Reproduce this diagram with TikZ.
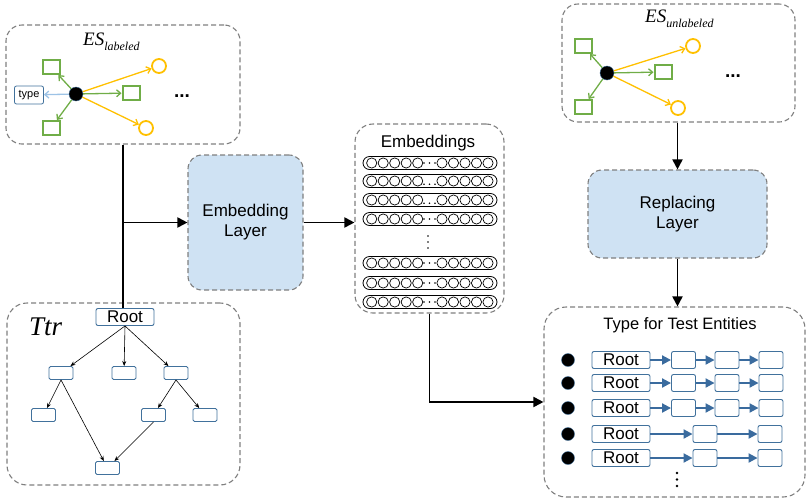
\documentclass[tikz,border=0pt]{standalone}
\usepackage{fontspec}
\setmainfont{Liberation Sans}
\newfontfamily\serifit{Liberation Serif}
\usetikzlibrary{arrows.meta,shapes.misc}

\definecolor{dgray}{HTML}{7F7F7F}
\definecolor{lfill}{HTML}{CFE2F3}
\definecolor{ggreen}{HTML}{70AD47}
\definecolor{gyellow}{HTML}{FFC000}
\definecolor{lblue}{HTML}{9DC3E6}
\definecolor{bblue}{HTML}{41719C}
\definecolor{ablue}{HTML}{3A6B9E}

\tikzset{
  dbox/.style={draw=dgray, dash pattern=on 5pt off 3pt, line width=1.1pt,
    rounded corners=16pt, inner sep=0pt},
  layer/.style={dbox, fill=lfill, rounded corners=14pt, align=center,
    font=\fontsize{17}{20}\selectfont},
  conn/.style={line width=1.8pt, -{Triangle[length=10pt,width=10pt]}},
  plainconn/.style={line width=1.8pt},
  hub/.style={circle, fill=black, draw=bblue, line width=0.4pt,
    minimum size=14pt, inner sep=0pt},
  gsq/.style={draw=ggreen, line width=2pt, minimum width=17pt,
    minimum height=14pt, inner sep=0pt},
  ycirc/.style={circle, draw=gyellow, line width=1.8pt, minimum size=14pt,
    inner sep=0pt},
  garrow/.style={draw=ggreen, line width=1.3pt, -{Straight Barb[length=4pt,width=7pt]}},
  yarrow/.style={draw=gyellow, line width=1.3pt, -{Straight Barb[length=4pt,width=7pt]}},
  larrow/.style={draw=lblue, line width=1.3pt, -{Straight Barb[length=4pt,width=7pt]}},
  typebox/.style={draw=bblue, line width=0.8pt, rounded corners=2pt,
    minimum width=29pt, minimum height=18pt, inner sep=0pt,
    font=\fontsize{11}{11}\selectfont},
  rootbox/.style={draw=bblue, line width=0.9pt, rounded corners=2pt,
    minimum width=58pt, minimum height=17pt, inner sep=0pt,
    font=\fontsize{17}{17}\selectfont},
  tnode/.style={draw=bblue, line width=0.9pt, rounded corners=1.5pt,
    minimum width=24pt, minimum height=13pt, inner sep=0pt},
  cnode/.style={draw=bblue, line width=0.9pt, rounded corners=2pt,
    minimum width=24pt, minimum height=17pt, inner sep=0pt},
  tarrow/.style={line width=0.6pt, -{Stealth[length=5pt,width=4pt]}},
  barrow/.style={draw=ablue, line width=2pt, -{Triangle[length=9pt,width=9pt]}},
  capsule/.style={rounded rectangle, draw, line width=0.8pt,
    minimum width=134pt, minimum height=13pt, inner sep=0pt},
  edot/.style={circle, fill=black, draw=bblue, line width=0.4pt,
    minimum size=13pt, inner sep=0pt},
  esfont/.style={font=\serifit\itshape\fontsize{19}{19}\selectfont},
  moredots/.style={font=\bfseries\fontsize{19}{19}\selectfont},
}

\begin{document}
\begin{tikzpicture}[x=1pt,y=-1pt]
\useasboundingbox (0,0) rectangle (807,499);

% ---- outer boxes ----
\node[dbox, minimum width=234pt, minimum height=119pt] (esl) at (123,84.5) {};
\node[dbox, minimum width=233pt, minimum height=118pt] (esu) at (678.5,63) {};
\node[dbox, minimum width=149pt, minimum height=189pt, rounded corners=18pt] (emb) at (429.5,218.5) {};
\node[layer, minimum width=115pt, minimum height=135pt] (el) at (245.5,222.5) {Embedding\\Layer};
\node[layer, minimum width=179pt, minimum height=88pt] (rl) at (677.5,214) {Replacing\\Layer};
\node[dbox, minimum width=233pt, minimum height=182pt, rounded corners=20pt] (ttr) at (123.5,394) {};
\node[dbox, minimum width=261pt, minimum height=190pt, rounded corners=22pt] (tte) at (674.5,402) {};

% ---- labelled entity set ----
\node[esfont, anchor=base west, inner sep=0pt] (eslab) at (83,45)
  {ES\raisebox{-5pt}{\fontsize{12}{12}\selectfont labeled}};
\node[hub] (dl) at (76,94) {};
\node[gsq] (l1) at (51,67) {};
\node[gsq] (l2) at (51,128) {};
\node[gsq] (l3) at (131,93) {};
\node[ycirc] (l4) at (159,66) {};
\node[ycirc] (l5) at (146,128) {};
\node[typebox] (lt) at (29,95) {type};
\node[moredots] (ldots) at (182,96) {...};
\draw[garrow] (dl) -- (l1);
\draw[garrow] (dl) -- (l2);
\draw[garrow] (dl) -- (l3);
\draw[yarrow] (dl) -- (l4);
\draw[yarrow] (dl) -- (l5);
\draw[larrow] (dl) -- (lt);

% ---- unlabelled entity set ----
\node[esfont, anchor=base west, inner sep=0pt] (eulab) at (645,22)
  {ES\raisebox{-5pt}{\fontsize{12}{12}\selectfont unlabeled}};
\node[hub] (du) at (607,73) {};
\node[gsq] (u1) at (583,46) {};
\node[gsq] (u2) at (583,107) {};
\node[gsq] (u3) at (663,72) {};
\node[ycirc] (u4) at (693,46) {};
\node[ycirc] (u5) at (678,108) {};
\node[moredots] (udots) at (733,76) {...};
\draw[garrow] (du) -- (u1);
\draw[garrow] (du) -- (u2);
\draw[garrow] (du) -- (u3);
\draw[yarrow] (du) -- (u4);
\draw[yarrow] (du) -- (u5);

% ---- embeddings ----
\node[font=\fontsize{17}{17}\selectfont] (embt) at (428,143) {Embeddings};
\foreach \y/\low [count=\i] in {163/0,181/1,200/1,219/0,263/0,283/0,302/0} {
  \node[capsule] (c\i) at (430,\y) {};
  \foreach \k in {0,...,4} {
    \draw[line width=0.7pt] (371.7+11.5*\k,\y) circle[radius=5.1pt];
    \draw[line width=0.7pt] (442+11.5*\k,\y) circle[radius=5.1pt];
  }
  \foreach \dx in {424,429.5,435}
    \fill (\dx,\y+3.2*\low) circle[radius=0.8pt];
}
\foreach \dy in {236,242,248}
  \fill (428,\dy) circle[radius=0.9pt];

% ---- type tree ----
\node[font=\serifit\itshape\fontsize{27}{27}\selectfont, anchor=base west, inner sep=0pt] (ttrlab) at (29,335) {Ttr};
\node[rootbox] (t0) at (125,317) {Root};
\node[tnode] (t1) at (61,373) {};
\node[tnode] (t2) at (124,373) {};
\node[tnode] (t3) at (176,373) {};
\node[tnode] (t4) at (43.5,415) {};
\node[tnode] (t5) at (153.5,415) {};
\node[tnode] (t6) at (205,415) {};
\node[tnode] (t7) at (107.5,468) {};
\draw[tarrow] (t0.south) -- (t1);
\draw[tarrow] (t0.south) -- (t2);
\draw[tarrow] (t0.south) -- (t3);
\draw[tarrow] (t1.south) -- (t4);
\draw[tarrow] (t1.south) -- (t7);
\draw[tarrow] (t3.south) -- (t5);
\draw[tarrow] (t3.south) -- (t6);
\draw[tarrow] (t5.south) -- (t7);

% ---- types for test entities ----
\node[font=\fontsize{16.5}{17}\selectfont] (ttet) at (680,325) {Type for Test Entities};
\foreach \y [count=\i] in {360,383,408} {
  \node[edot] (ea\i) at (568,\y) {};
  \node[rootbox] (ra\i) at (621,\y) {Root};
  \node[cnode] (pa\i) at (683.5,\y) {};
  \node[cnode] (qa\i) at (727,\y) {};
  \node[cnode] (sa\i) at (771,\y) {};
  \draw[barrow] (ra\i) -- (pa\i);
  \draw[barrow] (pa\i) -- (qa\i);
  \draw[barrow] (qa\i) -- (sa\i);
}
\foreach \y [count=\i] in {434,458} {
  \node[edot] (eb\i) at (568,\y) {};
  \node[rootbox] (rb\i) at (621,\y) {Root};
  \node[cnode] (pb\i) at (705,\y) {};
  \node[cnode] (qb\i) at (770,\y) {};
  \draw[barrow] (rb\i) -- (pb\i);
  \draw[barrow] (pb\i) -- (qb\i);
}
\foreach \dy in {473,479.5,486}
  \fill (677,\dy) circle[radius=1.3pt];

% ---- connectors ----
\draw[plainconn] (esl.south) -- (esl.south |- t0.north);
\draw[conn] (esl.south |- el.west) -- (el.west);
\draw[conn] (el.east) -- (emb.west |- el.east);
\draw[conn] (emb.south) |- (tte.west);
\draw[conn] (esu.south -| rl.north) -- (rl.north);
\draw[conn] (rl.south) -- (rl.south |- tte.north);
\end{tikzpicture}
\end{document}
